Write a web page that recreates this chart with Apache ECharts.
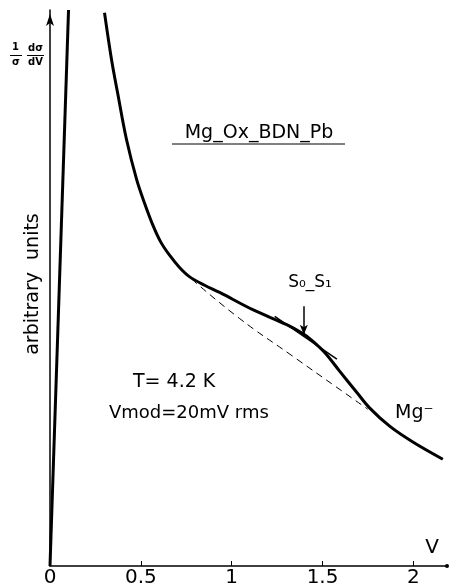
<!DOCTYPE html>
<html>
<head>
<meta charset="utf-8">
<script src="https://cdn.jsdelivr.net/npm/echarts@6/dist/echarts.min.js"></script>
<style>
html, body { margin: 0; padding: 0; background: #fff; }
#chart { width: 449px; height: 588px; }
</style>
</head>
<body>
<div id="chart"></div>
<script>
// bias V (volts) vs 1/sigma dsigma/dV in arbitrary units (100 = top of axis)
var steepV = [0.0, 0.102];
var steepY = [0, 100];

var curveV = [0.300, 0.339, 0.372, 0.421, 0.477, 0.521, 0.565, 0.609, 0.658, 0.713, 0.769, 0.851, 0.934,
              1.116, 1.303, 1.391, 1.441, 1.512, 1.595, 1.689, 1.760, 1.871, 1.997, 2.162];
var curveY = [99.5, 91.0, 85.1, 76.7, 69.5, 65.2, 61.4, 58.3, 55.9, 53.7, 52.0, 50.5, 49.2,
              46.1, 43.4, 41.8, 40.6, 38.4, 35.0, 31.2, 28.4, 25.1, 22.3, 19.2];

// dashed background under the S0-S1 bump
var baseV = [0.780, 1.044, 1.320, 1.749];
var baseY = [51.6, 44.5, 38.1, 28.2];

var tangentV = [1.237, 1.579];
var tangentY = [44.9, 37.2];

var arrowV = [1.397, 1.397];
var arrowY = [46.7, 41.6];

var xTicks = [0, 0.5, 1, 1.5, 2];

function zip(a, b) {
    let out = [];
    for (let i = 0; i < a.length; i++) {
        out.push([a[i], b[i]]);
    }
    return out;
}

var font = '"DejaVu Sans", sans-serif';

var chart = echarts.init(document.getElementById('chart'));
chart.setOption({
    backgroundColor: '#fff',
    animation: false,
    grid: {left: 50, right: 2, top: 10, bottom: 21},
    xAxis: {
        type: 'value',
        min: 0,
        max: 2.185,
        splitLine: {show: false},
        axisLine: {
            lineStyle: {color: '#000', width: 1.5},
            symbol: ['none', 'circle'],
            symbolSize: [4, 4]
        },
        axisTick: {
            inside: true,
            length: 5,
            customValues: xTicks,
            lineStyle: {color: '#000', width: 1}
        },
        axisLabel: {
            customValues: xTicks,
            color: '#000',
            fontFamily: font,
            fontSize: 20,
            margin: 2
        }
    },
    yAxis: {
        type: 'value',
        min: 0,
        max: 100,
        splitLine: {show: false},
        axisLine: {
            lineStyle: {color: '#000', width: 1.5},
            symbol: ['none', 'arrow'],
            symbolSize: [6, 12],
            symbolOffset: [0, -4]
        },
        axisTick: {show: false},
        axisLabel: {show: false}
    },
    series: [
        {
            type: 'line',
            data: zip(steepV, steepY),
            symbol: 'none',
            lineStyle: {color: '#000', width: 3}
        },
        {
            type: 'line',
            data: zip(curveV, curveY),
            symbol: 'none',
            smooth: 0.35,
            lineStyle: {color: '#000', width: 3}
        },
        {
            type: 'line',
            data: zip(baseV, baseY),
            symbol: 'none',
            smooth: true,
            lineStyle: {color: '#000', width: 1, type: [7, 5]}
        },
        {
            type: 'line',
            data: zip(tangentV, tangentY),
            symbol: 'none',
            lineStyle: {color: '#000', width: 1.5},
            markLine: {
                silent: true,
                symbol: ['none', 'arrow'],
                symbolSize: [6, 10],
                label: {show: false},
                lineStyle: {color: '#000', width: 1.5, type: 'solid'},
                data: [[{coord: [arrowV[0], arrowY[0]]}, {coord: [arrowV[1], arrowY[1]]}]]
            }
        }
    ],
    graphic: [
        // 1/sigma dsigma/dV
        {type: 'text', left: 12, top: 42, style: {text: '1', font: 'bold 10px ' + font, fill: '#000'}},
        {type: 'line', shape: {x1: 10, y1: 55.5, x2: 22, y2: 55.5}, style: {stroke: '#000', lineWidth: 1}},
        {type: 'text', left: 12, top: 57, style: {text: 'σ', font: 'bold 10px ' + font, fill: '#000'}},
        {type: 'text', left: 28, top: 43, style: {text: 'dσ', font: 'bold 10px ' + font, fill: '#000'}},
        {type: 'line', shape: {x1: 27, y1: 55.5, x2: 44, y2: 55.5}, style: {stroke: '#000', lineWidth: 1}},
        {type: 'text', left: 28, top: 57, style: {text: 'dV', font: 'bold 10px ' + font, fill: '#000'}},
        {
            type: 'text', x: 33, y: 284, rotation: Math.PI / 2,
            style: {text: 'arbitrary  units', font: '19px ' + font, fill: '#000', align: 'center', verticalAlign: 'middle'}
        },
        {type: 'text', x: 259, y: 133, style: {text: 'Mg_Ox_BDN_Pb', font: '19px ' + font, fill: '#000', align: 'center', verticalAlign: 'middle'}},
        {type: 'line', shape: {x1: 172, y1: 144, x2: 345, y2: 144}, style: {stroke: '#000', lineWidth: 1}},
        {type: 'text', x: 310, y: 283, style: {text: 'S₀_S₁', font: '17px ' + font, fill: '#000', align: 'center', verticalAlign: 'middle'}},
        {type: 'text', x: 133, y: 382, style: {text: 'T= 4.2 K', font: '19px ' + font, fill: '#000', verticalAlign: 'middle'}},
        {type: 'text', x: 109, y: 413, style: {text: 'Vmod=20mV rms', font: '18px ' + font, fill: '#000', verticalAlign: 'middle'}},
        {type: 'text', x: 395, y: 413, style: {text: 'Mg⁻', font: '19px ' + font, fill: '#000', verticalAlign: 'middle'}},
        {type: 'text', x: 432, y: 548, style: {text: 'V', font: '20px ' + font, fill: '#000', align: 'center', verticalAlign: 'middle'}}
    ]
});
</script>
</body>
</html>
